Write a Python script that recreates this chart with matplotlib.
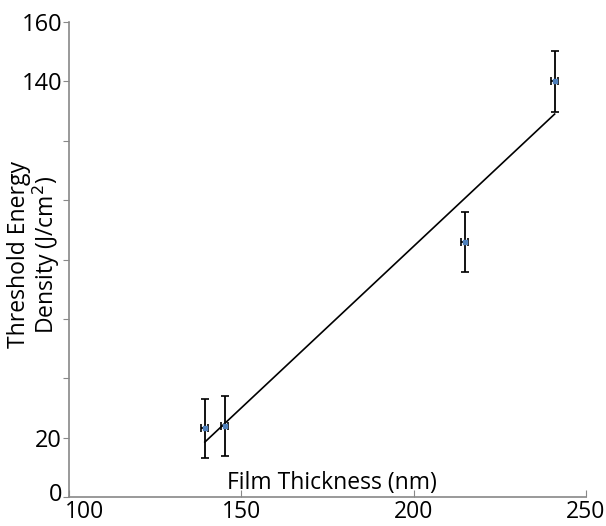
import matplotlib
matplotlib.use('Agg')
import matplotlib.pyplot as plt
import matplotlib.transforms as mtransforms
import numpy as np

# data
thickness = [139.4, 145.2, 214.8, 240.9]      # nm
thickness_err = [1.0, 1.0, 1.0, 1.0]
energy = [23.2, 23.9, 85.9, 140.0]            # J/cm2
energy_err = [10.0, 10.0, 10.0, 10.3]

x_ticks = [100, 150, 200, 250]
y_ticks = [0, 20, 40, 60, 80, 100, 120, 140, 160]
y_ticklabels = ['0', '20', '', '', '', '', '', '140', '160']

plt.rcParams['font.family'] = ['Open Sans', 'DejaVu Sans']

fig = plt.figure(figsize=(6.06, 5.26), dpi=100)
ax = fig.add_axes([0.114, 0.055, 0.853, 0.903])

# linear fit line, only over the data range
coef = np.polyfit(thickness, energy, 1)
xf = np.array([min(thickness), max(thickness)])
ax.plot(xf, np.polyval(coef, xf), color='black', lw=1.2, zorder=2)

ax.errorbar(thickness, energy, yerr=energy_err, xerr=thickness_err, fmt='s',
            ms=3.5, color='#4f81bd', ecolor='black', elinewidth=1.3,
            capsize=3, capthick=1.2, zorder=3)

ax.set_xlim(100, 250)
ax.set_ylim(0, 160)
ax.set_xticks(x_ticks)
ax.set_yticks(y_ticks)
ax.set_yticklabels(y_ticklabels)

for s in ['top', 'right']:
    ax.spines[s].set_visible(False)
for s in ['left', 'bottom']:
    ax.spines[s].set_color('#888888')
    ax.spines[s].set_linewidth(1.2)

ax.tick_params(axis='y', direction='out', length=4, color='#888888', labelsize=17, pad=1)
ax.tick_params(axis='x', direction='in', length=5, color='#888888', labelsize=16.5, pad=2)

# corner labels: "0" a bit up, "100" pushed right (like the original)
lab0 = ax.get_yticklabels()[0]
lab0.set_transform(lab0.get_transform() + mtransforms.ScaledTranslation(0, 4 / 72, fig.dpi_scale_trans))
lab100 = ax.get_xticklabels()[0]
lab100.set_transform(lab100.get_transform() + mtransforms.ScaledTranslation(11 / 72, 0, fig.dpi_scale_trans))

ax.set_xlabel('Film Thickness (nm)', fontsize=16.5)
ax.xaxis.set_label_coords(0.509, 0.054)
ax.set_ylabel('Threshold Energy\nDensity (J/cm$^2$)', fontsize=16.5, linespacing=1.0)
ax.yaxis.set_label_coords(-0.014, 0.51)

fig.savefig('out.png', dpi=100)
